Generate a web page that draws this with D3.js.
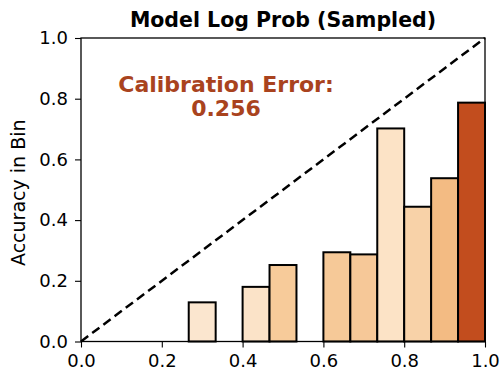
<!DOCTYPE html>
<html>
<head>
<meta charset="utf-8">
<script src="https://cdn.jsdelivr.net/npm/d3@7/dist/d3.min.js"></script>
<style>
  html, body { margin: 0; padding: 0; background: #fff; }
  svg { display: block; font-family: "DejaVu Sans", sans-serif; }
</style>
</head>
<body>
<svg id="chart" width="500" height="372"></svg>
<script>
// Reliability diagram: 15 equal-width confidence bins
const binCount = 15;
const binIndex = [4, 6, 7, 9, 10, 11, 12, 13, 14];
const accuracy = [0.129, 0.180, 0.252, 0.294, 0.287, 0.702, 0.444, 0.538, 0.787];
const barColors = ["#fbe6cf", "#fbe3c8", "#f7cb9a", "#f6c998", "#f6c898", "#fce3c6", "#f8d2a8", "#f3bb83", "#c24d1e"];
const tickValues = [0.0, 0.2, 0.4, 0.6, 0.8, 1.0];
const titleText = "Model Log Prob (Sampled)";
const yLabel = "Accuracy in Bin";
const errorLines = ["Calibration Error:", "0.256"];

const svg = d3.select("#chart");
const m = { left: 81, right: 485, top: 38, bottom: 341.5 };

const x = d3.scaleLinear().domain([0, 1]).range([m.left, m.right]);
const y = d3.scaleLinear().domain([0, 1]).range([m.bottom, m.top]);

// bars
svg.append("g").selectAll("rect")
  .data(binIndex.map((b, i) => ({ b, acc: accuracy[i], color: barColors[i] })))
  .join("rect")
  .attr("x", d => x(d.b / binCount))
  .attr("width", d => x((d.b + 1) / binCount) - x(d.b / binCount))
  .attr("y", d => y(d.acc))
  .attr("height", d => y(0) - y(d.acc))
  .attr("fill", d => d.color)
  .attr("stroke", "#000")
  .attr("stroke-width", 2);

// perfect calibration line
svg.append("line")
  .attr("x1", x(0)).attr("y1", y(0))
  .attr("x2", x(1)).attr("y2", y(1))
  .attr("stroke", "#000")
  .attr("stroke-width", 2.5)
  .attr("stroke-dasharray", "9,5");

// axes
const xAxis = svg.append("g")
  .attr("transform", `translate(0,${m.bottom})`)
  .call(d3.axisBottom(x).tickValues(tickValues).tickFormat(d3.format(".1f")).tickSizeOuter(0).tickSize(6).tickPadding(7));
const yAxis = svg.append("g")
  .attr("transform", `translate(${m.left},0)`)
  .call(d3.axisLeft(y).tickValues(tickValues).tickFormat(d3.format(".1f")).tickSizeOuter(0).tickSize(6).tickPadding(7));
[xAxis, yAxis].forEach(g => {
  g.select(".domain").remove();
  g.selectAll("line").attr("stroke", "#000").attr("stroke-width", 1.1);
  g.selectAll("text").attr("fill", "#000").style("font-size", "18px").style("font-family", "DejaVu Sans, sans-serif");
});

// frame
svg.append("rect")
  .attr("x", m.left).attr("y", m.top)
  .attr("width", m.right - m.left).attr("height", m.bottom - m.top)
  .attr("fill", "none").attr("stroke", "#000").attr("stroke-width", 1.3);

// title
svg.append("text")
  .attr("x", (m.left + m.right) / 2).attr("y", 27)
  .attr("text-anchor", "middle")
  .style("font-size", "20.5px").style("font-weight", "bold")
  .text(titleText);

// y label
svg.append("text")
  .attr("transform", `translate(25,${(m.top + m.bottom) / 2 + 3}) rotate(-90)`)
  .attr("text-anchor", "middle")
  .style("font-size", "19px")
  .text(yLabel);

// calibration error annotation
svg.append("g").selectAll("text")
  .data(errorLines)
  .join("text")
  .attr("x", 226)
  .attr("y", (d, i) => 92 + i * 23.5)
  .attr("text-anchor", "middle")
  .attr("fill", "#a9431e")
  .style("font-size", "22px").style("font-weight", "bold")
  .text(d => d);
</script>
</body>
</html>
